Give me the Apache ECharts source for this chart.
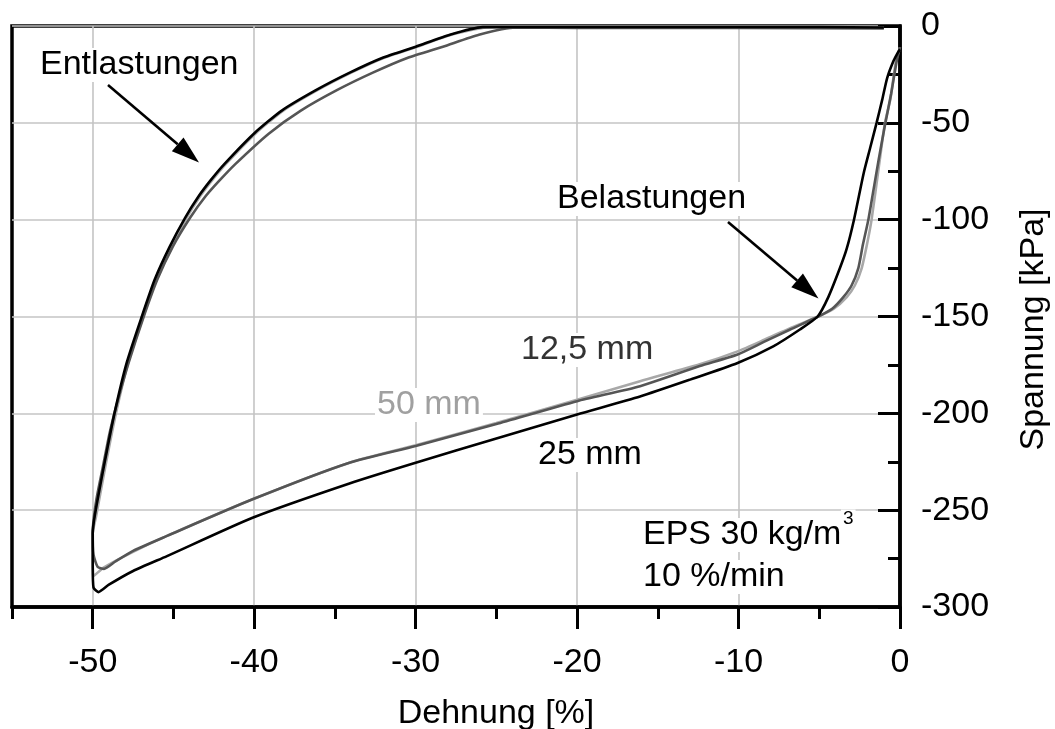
<!DOCTYPE html>
<html>
<head>
<meta charset="utf-8">
<script src="https://cdn.jsdelivr.net/npm/echarts@6/dist/echarts.min.js"></script>
<style>
  html, body { margin: 0; padding: 0; background: #fff; }
  #chart { width: 1055px; height: 729px; }
</style>
</head>
<body>
<div id="chart"></div>
<script>
// Hysteresis loops of EPS 30 kg/m3 at 10 %/min: strain [%] vs. stress [kPa]
// Each loop: loading from the right, unloading back up and along zero stress.

// specimen height 25 mm
const strain25 = [0, -0.15, -0.4, -0.8, -1.1, -1.45, -1.85, -2.25, -2.85, -3.3, -3.72, -4.44, -5.1, -6.2, -7.85, -10.06, -13.0, -16.1, -20.0, -25.0, -30.0, -34.1, -40.1, -45.4, -47.5, -49.0, -49.65, -49.95, -50.0, -50.0, -49.88, -49.26, -48.64, -47.89, -46.96, -46.16, -45.23, -44.27, -43.43, -42.69, -41.85, -40.02, -38.29, -36.12, -34.08, -32.04, -29.99, -27.88, -25.84, -24.0, -15.0, -5.0, -1.0];
const stress25 = [-12, -14, -18, -27, -38, -50, -63, -76, -100, -115, -125, -140, -150, -156.7, -165.4, -174, -182.6, -191.3, -200.6, -213, -225.5, -236.2, -253.9, -273.7, -281.4, -288.5, -292.3, -290, -279, -262, -253.2, -225.3, -199.5, -173.7, -150, -130.9, -113.9, -98.9, -87.8, -79.6, -71.3, -55.6, -43.7, -32.9, -24.1, -16.4, -10.7, -4.5, -0.6, -0.5, -0.5, -0.5, -0.8];

// specimen height 12,5 mm
const strain12 = [0, -0.2, -0.55, -0.95, -1.3, -1.65, -1.96, -2.3, -2.58, -3.0, -3.51, -4.2, -5.06, -6.8, -8.4, -10.06, -12.4, -16.1, -20.0, -25.0, -30.0, -34.1, -40.1, -45.4, -47.5, -48.6, -49.3, -49.7, -49.95, -50.0, -49.77, -49.36, -48.95, -48.43, -47.77, -46.84, -46.0, -45.04, -43.96, -43.0, -42.13, -41.17, -39.1, -37.11, -34.82, -32.65, -30.48, -28.31, -26.08, -23.79, -20.0, -10.0, -1.0];
const stress12 = [-11, -18, -35, -52, -68, -85, -100, -113, -125, -134, -140, -146, -150, -156.7, -163, -169.6, -175.6, -186, -193.7, -205.5, -216.9, -225.5, -244.4, -263.3, -271, -276.5, -280.3, -279.2, -273, -261.6, -244.4, -227.2, -210, -192.8, -173.7, -150, -130.9, -113.9, -98.9, -87.8, -79.6, -71.3, -55.6, -43.7, -32.9, -24.1, -16.4, -10.7, -4.5, -0.8, -1.0, -1.0, -1.3];

// specimen height 50 mm
const strain50 = [0, -0.25, -0.6, -0.93, -1.3, -1.76, -2.05, -2.37, -2.8, -3.3, -4.1, -5.06, -6.8, -8.4, -10.06, -12.4, -16.1, -20.0, -25.0, -30.0, -34.1, -40.1, -45.4, -47.5, -49.3, -49.95, -50.0, -50.0, -49.79, -49.17, -48.55, -47.8, -46.87, -46.07, -45.14, -44.18, -43.34, -42.6, -41.76, -39.93, -38.2, -36.03, -33.99, -31.95, -29.9, -27.79, -25.6, -23.5, -15.0, -5.0, -1.0];
const stress50 = [-11, -18, -38, -50, -72, -100, -113, -125, -134, -140, -146, -150, -156, -162, -168, -174.7, -183.4, -193, -205, -216.5, -225.5, -244.4, -263.3, -271.5, -279.5, -284, -275, -262, -253.2, -225.3, -199.5, -173.7, -150, -130.9, -113.9, -98.9, -87.8, -79.6, -71.3, -55.6, -43.7, -32.9, -24.1, -16.4, -10.7, -4.5, -0.8, -0.6, -0.6, -0.6, -0.8];

// axis ticks
const xMajorTicks = [-50, -40, -30, -20, -10, 0];
const xMinorTicks = [-55, -45, -35, -25, -15, -5];

const FONT_FAMILY = '"Liberation Sans", Arial, Helvetica, sans-serif';
const FONT_SIZE = 34;

function zip(xs, ys) {
  return xs.map((x, i) => [x, ys[i]]);
}

function curve(name, xs, ys, color) {
  return {
    name: name,
    type: 'line',
    data: zip(xs, ys),
    showSymbol: false,
    smooth: 0.2,
    lineStyle: { color: color, width: 2.6 },
    itemStyle: { color: color },
    silent: true,
    xAxisIndex: 0,
    yAxisIndex: 0
  };
}

function label(text, x, y, color, size) {
  return {
    type: 'text',
    x: x - 2,
    y: y,
    z: 50,
    style: {
      text: text,
      fill: color,
      font: (size || FONT_SIZE) + 'px ' + FONT_FAMILY,
      align: 'left',
      verticalAlign: 'middle',
      backgroundColor: '#fff',
      padding: [0, 2]
    }
  };
}

function arrow(x1, y1, x2, y2) {
  const dx = x2 - x1, dy = y2 - y1;
  const len = Math.sqrt(dx * dx + dy * dy);
  const ux = dx / len, uy = dy / len;
  const headLen = 28, headHalf = 9;
  const bx = x2 - ux * headLen, by = y2 - uy * headLen;
  return [
    {
      type: 'line', z: 60,
      shape: { x1: x1, y1: y1, x2: bx, y2: by },
      style: { stroke: '#000', lineWidth: 2.6 }
    },
    {
      type: 'polygon', z: 60,
      shape: { points: [[x2, y2], [bx - uy * headHalf, by + ux * headHalf], [bx + uy * headHalf, by - ux * headHalf]] },
      style: { fill: '#000' }
    }
  ];
}

const chart = echarts.init(document.getElementById('chart'), null, { renderer: 'canvas' });

const option = {
  animation: false,
  backgroundColor: '#fff',
  grid: {
    left: 12, right: 155, top: 26, bottom: 122,
    outerBoundsMode: 'none', containLabel: false,
    show: true, borderColor: '#000', borderWidth: 3.5, backgroundColor: 'transparent'
  },
  xAxis: [
    {
      type: 'value', min: -55, max: 0, interval: 5, position: 'bottom',
      axisLine: { show: true, onZero: false, lineStyle: { color: '#000', width: 3.5 } },
      axisTick: { show: true, length: 22, customValues: xMajorTicks, lineStyle: { color: '#000', width: 3 } },
      axisLabel: { show: true, customValues: xMajorTicks, margin: 39, fontSize: FONT_SIZE, color: '#000', fontFamily: FONT_FAMILY },
      splitLine: { show: true, lineStyle: { color: '#c4c4c4', width: 1.6 } },
      name: 'Dehnung [%]', nameLocation: 'middle', nameGap: 90,
      nameTextStyle: { fontSize: FONT_SIZE, color: '#000', fontFamily: FONT_FAMILY, padding: [0, 0, 0, 80] }
    },
    {
      type: 'value', min: -55, max: 0, interval: 5, position: 'bottom', gridIndex: 0,
      axisLine: { show: false, onZero: false },
      axisTick: { show: true, length: 12, customValues: xMinorTicks, lineStyle: { color: '#000', width: 3 } },
      axisLabel: { show: false },
      splitLine: { show: false }
    }
  ],
  yAxis: {
    type: 'value', min: -300, max: 0, interval: 50, position: 'right',
    axisLine: { show: true, onZero: false, lineStyle: { color: '#000', width: 3.5 } },
    axisTick: { show: true, inside: true, length: 22, lineStyle: { color: '#000', width: 3 } },
    minorTick: { show: true, splitNumber: 2, length: 12, lineStyle: { color: '#000', width: 3 } },
    axisLabel: { margin: 21, fontSize: FONT_SIZE, color: '#000', fontFamily: FONT_FAMILY },
    splitLine: { show: true, lineStyle: { color: '#c4c4c4', width: 1.6 } },
    name: 'Spannung [kPa]', nameLocation: 'middle', nameRotate: 90, nameGap: 117,
    nameTextStyle: { fontSize: FONT_SIZE, color: '#000', fontFamily: FONT_FAMILY, padding: [0, 26, 0, 0] }
  },
  series: [
    curve('50 mm', strain50, stress50, '#a8a8a8'),
    curve('12,5 mm', strain12, stress12, '#555555'),
    curve('25 mm', strain25, stress25, '#000000')
  ],
  graphic: [
    label('Entlastungen', 40, 65, '#000'),
    label('Belastungen', 557, 199, '#000'),
    label('12,5 mm', 521, 350, '#333'),
    label('50 mm', 377, 405, '#a0a0a0'),
    label('25 mm', 538, 455, '#000'),
    label('EPS 30 kg/m', 643, 535, '#000'),
    label('3', 843, 519, '#000', 19),
    label('10 %/min', 643, 577, '#000')
  ].concat(arrow(108, 85, 199, 162.5), arrow(728, 222, 818.5, 298.5))
};

chart.setOption(option);
</script>
</body>
</html>
